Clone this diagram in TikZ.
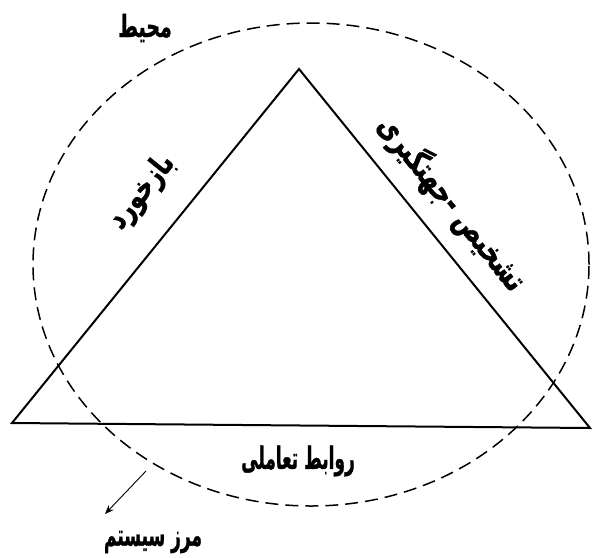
\documentclass[tikz,border=0pt]{standalone}
\usepackage{fontspec}
\usepackage{graphicx}
\TeXXeTstate=1
\newfontfamily\arabicfont[Script=Arabic, BoldFeatures={FakeBold=1.2}]{DejaVu Sans}
\usetikzlibrary{arrows.meta,shapes.geometric}
\newcommand{\fa}[2][1.35]{\scalebox{1}[#1]{\beginR #2\endR}}
\begin{document}
\begin{tikzpicture}[x=1pt,y=-1pt,
  lbl/.style={font=\arabicfont\bfseries\fontsize{#1}{#1}\selectfont, inner sep=0pt},
  side/.style={line width=2pt, line join=miter},
  bound/.style={draw, dashed, dash pattern=on 13pt off 7pt, line width=1.5pt, ellipse, inner sep=0pt}]
\useasboundingbox (0,0) rectangle (593,557);
\coordinate (A) at (299,69);
\coordinate (L) at (12,423);
\coordinate (R) at (590,428);
\draw[side] (A) -- (L) -- (R) -- cycle;
\node[bound, minimum width=556pt, minimum height=483pt] (boundary) at (311,264.5) {};
\node[lbl=19] (mohit) at (145,28) {\fa[1.6]{محیط}};
\node[lbl=23, rotate=51] (bazkhord) at (142,192) {\fa[1.35]{بازخورد}};
\node[lbl=24, rotate=-51] (tashkhis) at (452,203) {\fa[1.35]{تشخیص -جهتگیری}};
\node[lbl=17] (ravabet) at (298,461) {\fa[1.8]{روابط تعاملی}};
\node[lbl=17] (marz) at (153,542) {\fa[1.8]{مرز سیستم}};
\coordinate (as) at (146,471);
\coordinate (at) at (105,514);
\draw[line width=0.9pt, -{Stealth[length=9pt,width=7pt]}] (as) -- (at);
\end{tikzpicture}
\end{document}
